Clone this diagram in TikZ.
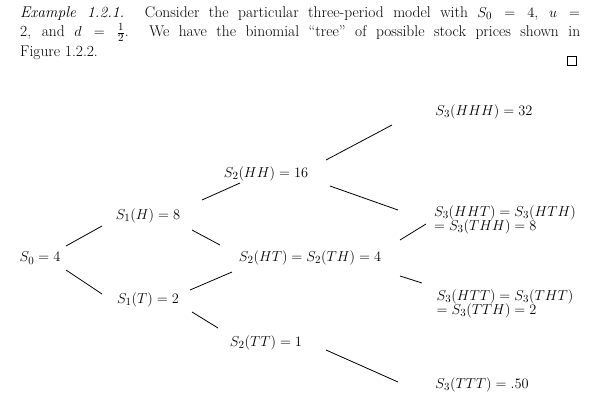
\documentclass[tikz,border=0pt]{standalone}
\usepackage{amsmath,amssymb}
\begin{document}
\begin{tikzpicture}[x=1pt,y=-1pt,
  lab/.style={inner sep=1pt,font=\fontsize{15}{16}\selectfont},
  ln/.style={line width=0.8pt}]
\useasboundingbox (0,0) rectangle (608,400);
\node[anchor=north west,text width=560pt,align=justify,inner sep=0pt,font=\fontsize{15.5}{19.5}\selectfont] (txt) at (20,6)
{\textit{Example 1.2.1.} Consider the particular three-period model with $S_0=4$, $u=$\linebreak
2, and $d=\frac12$. We have the binomial ``tree'' of possible stock prices shown in\linebreak
Figure 1.2.2.\hfill};
\node[draw,line width=0.8pt,minimum size=9pt,inner sep=0pt] (box) at (572,61) {};
\node[lab] (s0) at (40,258) {$S_0=4$};
\node[lab] (s1h) at (148,216) {$S_1(H)=8$};
\node[lab] (s1t) at (148,300) {$S_1(T)=2$};
\node[lab] (s2hh) at (266,174) {$S_2(HH)=16$};
\node[lab] (s2ht) at (310,258) {$S_2(HT)=S_2(TH)=4$};
\node[lab] (s2tt) at (266,343) {$S_2(TT)=1$};
\node[lab] (s3hhh) at (484,112) {$S_3(HHH)=32$};
\node[lab,align=left] (s3hht) at (505,220) {$S_3(HHT)=S_3(HTH)$\\[-2pt]$=S_3(THH)=8$};
\node[lab,align=left] (s3htt) at (505,304) {$S_3(HTT)=S_3(THT)$\\[-2pt]$=S_3(TTH)=2$};
\node[lab] (s3ttt) at (482,385) {$S_3(TTT)=.50$};
\draw[ln] ([shift={(26,-12)}]s0.center) -- ([shift={(-46,10)}]s1h.center);
\draw[ln] ([shift={(26,12)}]s0.center) -- ([shift={(-46,-6)}]s1t.center);
\draw[ln] ([shift={(54,-16)}]s1h.center) -- ([shift={(-26,9)}]s2hh.center);
\draw[ln] ([shift={(44,14)}]s1h.center) -- ([shift={(-90,-13)}]s2ht.center);
\draw[ln] ([shift={(42,-10)}]s1t.center) -- ([shift={(-78,14)}]s2ht.center);
\draw[ln] ([shift={(44,12)}]s1t.center) -- ([shift={(-48,-15)}]s2tt.center);
\draw[ln] ([shift={(60,-14)}]s2hh.center) -- ([shift={(-92,13)}]s3hhh.center);
\draw[ln] ([shift={(64,12)}]s2hh.center) -- ([shift={(-107,-10)}]s3hht.center);
\draw[ln] ([shift={(90,-18)}]s2ht.center) -- ([shift={(-79,4)}]s3hht.center);
\draw[ln] ([shift={(90,18)}]s2ht.center) -- ([shift={(-83,-21)}]s3htt.center);
\draw[ln] ([shift={(60,7)}]s2tt.center) -- ([shift={(-84,-3)}]s3ttt.center);
\end{tikzpicture}
\end{document}
